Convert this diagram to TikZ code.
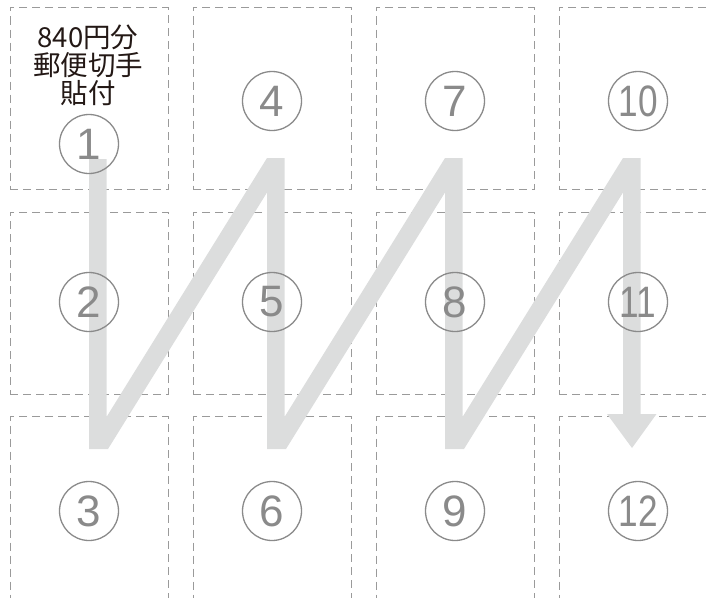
\documentclass[tikz,border=0pt]{standalone}
\usepackage{fontspec}
\setmainfont{Liberation Sans}
\newfontfamily\cjk{Noto Sans CJK JP}
\definecolor{zig}{HTML}{DCDDDD}
\definecolor{dash}{HTML}{9A9A9A}
\definecolor{numc}{HTML}{8A8A8A}
\definecolor{ink}{HTML}{231815}
\tikzset{
  stampbox/.style={draw=dash, line width=1pt, dash pattern=on 8pt off 5pt, rectangle, minimum width=158pt, minimum height=182pt, inner sep=0pt},
  numcircle/.style={draw=numc, line width=1.3pt, circle, minimum size=59pt, inner sep=0pt, text=numc, font=\fontsize{44}{44}\selectfont},
  label/.style={align=center, text=ink, font=\cjk\fontsize{27.5}{28}\selectfont, inner sep=0pt}
}
\newcommand{\narrow}[1]{\scalebox{0.8}[1]{#1}}
\begin{document}
\begin{tikzpicture}[x=1pt,y=-1pt]
\useasboundingbox (0,0) rectangle (706,597);
\clip (0,0) rectangle (706,597);
% dashed boxes
\node[stampbox] (b1)  at (89,98.5) {};
\node[stampbox] (b2)  at (89,303) {};
\node[stampbox] (b3)  at (89,507.5) {};
\node[stampbox] (b4)  at (272,98.5) {};
\node[stampbox] (b5)  at (272,303) {};
\node[stampbox] (b6)  at (272,507.5) {};
\node[stampbox] (b7)  at (455,98.5) {};
\node[stampbox] (b8)  at (455,303) {};
\node[stampbox] (b9)  at (455,507.5) {};
\node[stampbox] (b10) at (638,98.5) {};
\node[stampbox] (b11) at (638,303) {};
\node[stampbox] (b12) at (638,507.5) {};
% zigzag arrow
\fill[zig] (89,159) -- (89,449) -- (108,449) -- (267,192.5) -- (267,449) -- (286,449)
  -- (445,192.5) -- (445,449) -- (464,449) -- (623,192.5) -- (623,414) -- (607,414)
  -- (632,448) -- (656.5,414) -- (640.5,414) -- (640.5,158) -- (623,158) -- (462.5,417)
  -- (462.5,158) -- (445,158) -- (284.5,417) -- (284.5,158) -- (267,158) -- (106.5,417)
  -- (106.5,159) -- cycle;
% numbers
\node[numcircle] (n1)  at (89,144) {1};
\node[numcircle] (n2)  at (89,302) {2};
\node[numcircle] (n3)  at (89,511) {3};
\node[numcircle] (n4)  at (272,101) {4};
\node[numcircle] (n5)  at (272,302) {5};
\node[numcircle] (n6)  at (272,511) {6};
\node[numcircle] (n7)  at (455,101) {7};
\node[numcircle] (n8)  at (455,302) {8};
\node[numcircle] (n9)  at (455,511) {9};
\node[numcircle] (n10) at (638,101) {\narrow{10}};
\node[numcircle] (n11) at (638,302) {\narrow{11}};
\node[numcircle] (n12) at (638,511) {\narrow{12}};
% label
\node[label] (txt) at (88,65) {840円分\\郵便切手\\貼付};
\end{tikzpicture}
\end{document}
